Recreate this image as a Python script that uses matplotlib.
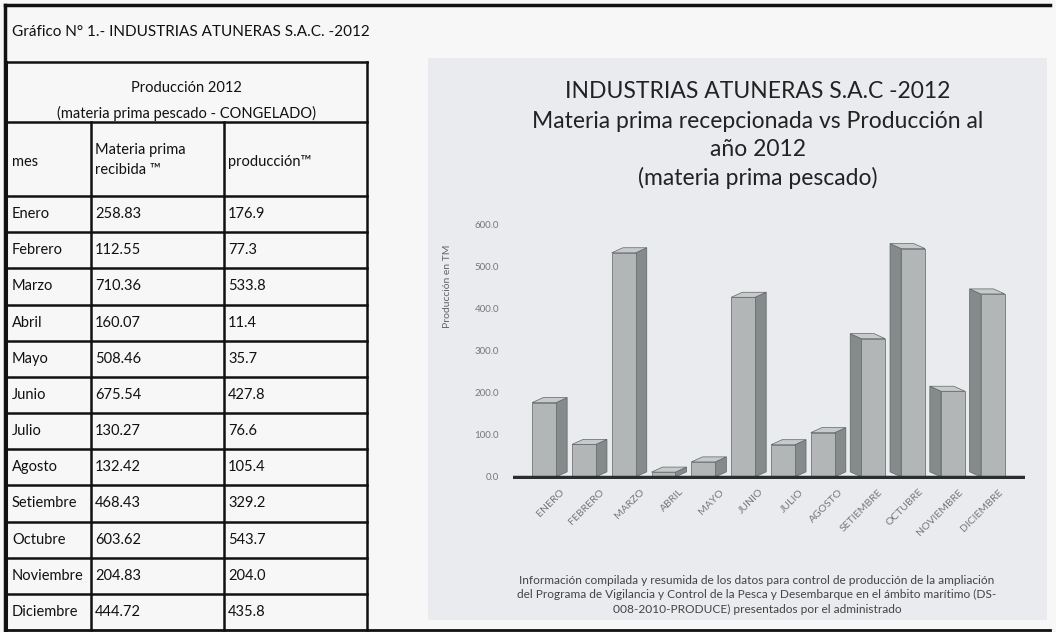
import matplotlib
matplotlib.use("Agg")
import matplotlib.pyplot as plt
from matplotlib.patches import Rectangle
import numpy as np

# data
meses = ["Enero", "Febrero", "Marzo", "Abril", "Mayo", "Junio", "Julio",
         "Agosto", "Setiembre", "Octubre", "Noviembre", "Diciembre"]
materia_prima = [258.83, 112.55, 710.36, 160.07, 508.46, 675.54, 130.27,
                 132.42, 468.43, 603.62, 204.83, 444.72]
produccion = [176.9, 77.3, 533.8, 11.4, 35.7, 427.8, 76.6, 105.4, 329.2,
              543.7, 204.0, 435.8]
y_ticks = [0, 100, 200, 300, 400, 500, 600]

plt.rcParams["font.family"] = ["Lato", "DejaVu Sans"]

W, H = 1056, 632
fig = plt.figure(figsize=(W / 100, H / 100), dpi=100)
fig.patch.set_facecolor("#f7f7f7")

# page overlay in pixel coords (table, frame, chart panel)
page = fig.add_axes([0, 0, 1, 1], zorder=0)
page.set_xlim(0, W)
page.set_ylim(H, 0)
page.axis("off")

# chart panel background
page.add_patch(Rectangle((428, 58), 619, 562, facecolor="#eaebef", edgecolor="none"))

# outer frame
page.plot([5, 1050], [5, 5], color="#111", lw=2.5)
page.plot([5, 5], [5, 630], color="#111", lw=2.5)
page.plot([5, 1050], [630, 630], color="#111", lw=2)

page.text(12, 32, "Gráfico N° 1.- INDUSTRIAS ATUNERAS S.A.C. -2012",
          fontsize=11, va="center", ha="left", color="#111")

# table
t_left, t_right = 6, 367
col1, col2 = 91, 224
t_top, h_top, h_bot = 62, 122, 196
row_h = (630 - h_bot) / len(meses)
lc = "#111"
page.plot([t_left, t_right], [t_top, t_top], color=lc, lw=1.8)
page.plot([t_left, t_left], [t_top, 630], color=lc, lw=2.2)
page.plot([t_right, t_right], [t_top, 630], color=lc, lw=1.8)
page.plot([t_left, t_right], [h_top, h_top], color=lc, lw=1.8)
page.plot([t_left, t_right], [h_bot, h_bot], color=lc, lw=1.8)
page.plot([col1, col1], [h_top, 630], color=lc, lw=1.8)
page.plot([col2, col2], [h_top, 630], color=lc, lw=1.8)

page.text((t_left + t_right) / 2, 88, "Producción 2012", fontsize=10.5,
          ha="center", va="center", color="#111")
page.text((t_left + t_right) / 2, 113, "(materia prima pescado - CONGELADO)",
          fontsize=10.5, ha="center", va="center", color="#111")
page.text(12, 162, "mes", fontsize=10.5, va="center", color="#111")
page.text(95, 160, "Materia prima\nrecibida ™", fontsize=10.5, va="center",
          color="#111", linespacing=1.5)
page.text(228, 162, "producción™", fontsize=10.5, va="center", color="#111")

for i, (m, mp, pr) in enumerate(zip(meses, materia_prima, produccion)):
    y0 = h_bot + i * row_h
    if i > 0:
        page.plot([t_left, t_right], [y0, y0], color=lc, lw=1.8)
    yc = y0 + row_h / 2
    page.text(12, yc, m, fontsize=10.5, va="center", color="#111")
    page.text(95, yc, f"{mp:.2f}", fontsize=10.5, va="center", color="#111")
    page.text(228, yc, f"{pr:.1f}", fontsize=10.5, va="center", color="#111")

# chart titles
cx = 758
for yy, s in [(92, "INDUSTRIAS ATUNERAS S.A.C -2012"),
              (121, "Materia prima recepcionada vs Producción al"),
              (150, "año 2012"),
              (178, "(materia prima pescado)")]:
    page.text(cx, yy, s, fontsize=16.5, ha="center", va="center", color="#222")

foot = ("Información compilada y resumida de los datos para control de producción de la ampliación\n"
        "del Programa de Vigilancia y Control de la Pesca y Desembarque en el ámbito marítimo (DS-\n"
        "008-2010-PRODUCE) presentados por el administrado")
page.text(757, 595, foot, fontsize=8.6, ha="center", va="center", color="#444",
          linespacing=1.35)

# bar chart
ax = fig.add_axes([513 / W, (H - 479) / H, 512 / W, 254 / H], zorder=1)
ax.patch.set_alpha(0)
x = np.arange(len(produccion))
ax.set_xlim(-0.93, 11.93)
ax.set_ylim(-5, 600)

front_w, dx, dy = 0.6, 0.28, 12
front_c = "#b2b6b6"
side_c = "#858b8b"
top_c = "#c6caca"
edge_c = "#5f6464"
for xi, h in zip(x, produccion):
    if xi <= 7:
        fl, fr = xi - 0.45, xi + 0.15
        sx = fr + dx
        ax.fill([fr, sx, sx, fr], [0, dy, h + dy, h], color=side_c, ec=edge_c, lw=0.5)
        ax.fill([fl, fr, sx, fl + dx], [h, h, h + dy, h + dy], color=top_c, ec=edge_c, lw=0.5)
    else:
        fl, fr = xi - 0.18, xi + 0.42
        sx = fl - dx
        ax.fill([fl, sx, sx, fl], [0, dy, h + dy, h], color=side_c, ec=edge_c, lw=0.5)
        ax.fill([fl, fr, fr - dx, sx], [h, h, h + dy, h + dy], color=top_c, ec=edge_c, lw=0.5)
    ax.bar((fl + fr) / 2, h, width=front_w, color=front_c, edgecolor=edge_c, lw=0.5, zorder=3)

ax.axhline(0, color="#2a2e2e", lw=2.5, zorder=4)

for sp in ax.spines.values():
    sp.set_visible(False)
ax.set_yticks(y_ticks)
ax.set_yticklabels([f"{v:.1f}" for v in y_ticks], fontsize=7, color="#777")
ax.tick_params(axis="y", length=0, pad=10)
ax.set_xticks(x + 0.25)
ax.set_xticklabels([m.upper() for m in meses], rotation=45, ha="right",
                   rotation_mode="anchor", fontsize=7.5, color="#777")
ax.tick_params(axis="x", length=0, pad=6)
ax.set_ylabel("Producción en TM", fontsize=7.5, color="#666")
ax.yaxis.set_label_coords(-0.119, 0.76)

fig.savefig("out.png", dpi=100, facecolor=fig.get_facecolor())
